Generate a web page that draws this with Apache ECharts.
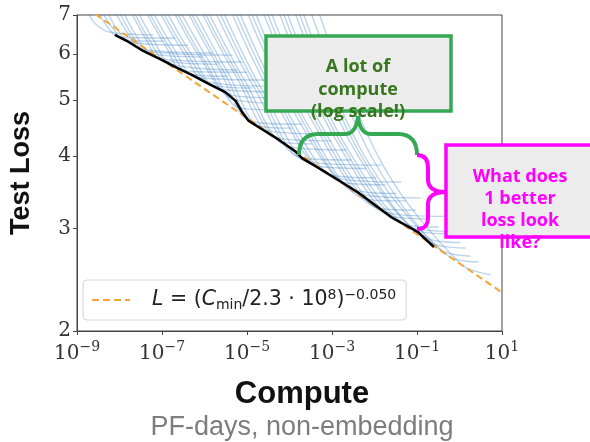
<!DOCTYPE html>
<html>
<head>
<meta charset="utf-8">
<script src="https://cdn.jsdelivr.net/npm/echarts@6/dist/echarts.min.js"></script>
<style>
html, body { margin: 0; padding: 0; background: #fff; }
#chart { width: 590px; height: 442px; }
</style>
</head>
<body>
<div id="chart"></div>
<script>
// tick positions
var xTicks = [1e-9, 1e-7, 1e-5, 1e-3, 1e-1, 10];
var yTicks = [2, 3, 4, 5, 6, 7];

// power law fit L = (C/2.3e8)^-0.050, end points
var fitLine = [[1e-9, 7.38], [10, 2.33]];

// compute-efficient frontier (black)
var frontier = [
  [7.8e-9, 6.47], [1.47e-8, 6.32], [3.6e-8, 6.07], [8.8e-8, 5.88], [2.15e-7, 5.69],
  [5.3e-7, 5.51], [1.29e-6, 5.32], [3.15e-6, 5.15], [5.4e-6, 4.98], [7.7e-6, 4.76],
  [1.1e-5, 4.60], [2.26e-5, 4.45], [4.6e-5, 4.31], [1.35e-4, 4.08], [1.97e-4, 3.97],
  [6.8e-4, 3.76], [4.2e-3, 3.46], [2.5e-2, 3.14], [0.106, 2.96], [0.25, 2.79]
];

// individual training runs (blue), [compute, loss]
var runs = [
  [[1.81e-9, 7.06], [2.77e-9, 6.75], [5.89e-9, 6.54], [6.25e-8, 6.47]],
  [[3.26e-9, 7.06], [5.28e-9, 6.67], [1.01e-8, 6.41], [2.04e-7, 6.39]],
  [[4.04e-9, 7.06], [6.92e-9, 6.65], [1.32e-8, 6.34], [1.07e-7, 6.31]],
  [[5.28e-9, 7.06], [9.04e-9, 6.60], [1.82e-8, 6.29], [4.10e-7, 6.21]],
  [[8.12e-9, 7.06], [1.55e-8, 6.52], [3.28e-8, 6.12], [1.57e-6, 6.02]],
  [[1.01e-8, 7.06], [1.92e-8, 6.49], [4.30e-8, 6.07], [4.59e-6, 5.97]],
  [[1.25e-8, 7.06], [2.51e-8, 6.44], [5.62e-8, 6.00], [9.17e-7, 5.93]],
  [[1.92e-8, 7.06], [4.07e-8, 6.39], [9.61e-8, 5.88], [7.86e-6, 5.81]],
  [[2.25e-8, 7.06], [5.05e-8, 6.34], [1.26e-7, 5.83], [2.05e-6, 5.76]],
  [[2.79e-8, 7.06], [6.59e-8, 6.31], [1.64e-7, 5.76], [6.01e-6, 5.63]],
  [[4.30e-8, 7.06], [1.19e-7, 6.21], [3.30e-7, 5.60], [1.03e-5, 5.58]],
  [[5.05e-8, 7.06], [1.48e-7, 6.16], [4.56e-7, 5.54], [3.51e-6, 5.49]],
  [[6.25e-8, 7.06], [1.93e-7, 6.12], [6.30e-7, 5.47], [3.01e-5, 5.41]],
  [[9.10e-8, 7.06], [3.13e-7, 6.04], [1.14e-6, 5.37], [3.94e-5, 5.28]],
  [[1.07e-7, 7.06], [3.88e-7, 6.02], [1.57e-6, 5.30], [1.35e-5, 5.24]],
  [[1.33e-7, 7.06], [5.08e-7, 5.97], [2.17e-6, 5.22], [8.81e-5, 5.16]],
  [[1.93e-7, 7.06], [8.24e-7, 5.88], [3.91e-6, 5.10], [5.15e-5, 5.04]],
  [[2.27e-7, 7.06], [1.02e-6, 5.83], [5.12e-6, 5.00], [1.97e-4, 4.92]],
  [[2.81e-7, 7.06], [1.34e-6, 5.79], [7.06e-6, 4.84], [1.15e-4, 4.80]],
  [[4.10e-7, 7.06], [2.17e-6, 5.67], [1.35e-5, 4.58], [1.97e-4, 4.54]],
  [[4.81e-7, 7.06], [2.69e-6, 5.63], [1.86e-5, 4.51], [1.15e-4, 4.47]],
  [[5.97e-7, 7.06], [3.51e-6, 5.58], [2.56e-5, 4.44], [5.78e-4, 4.37]],
  [[8.69e-7, 7.06], [5.69e-6, 5.47], [4.88e-5, 4.30], [9.88e-4, 4.25]],
  [[1.02e-6, 7.06], [7.06e-6, 5.43], [6.73e-5, 4.23], [3.37e-4, 4.20]],
  [[1.26e-6, 7.06], [9.23e-6, 5.37], [9.82e-5, 4.15], [2.21e-3, 4.10]],
  [[1.84e-6, 7.06], [1.50e-5, 5.24], [1.97e-4, 3.97], [2.89e-3, 3.94]],
  [[2.29e-6, 7.06], [1.96e-5, 5.18], [2.72e-4, 3.91], [1.45e-2, 3.86]],
  [[2.83e-6, 7.06], [2.56e-5, 5.12], [3.96e-4, 3.85], [6.47e-3, 3.81]],
  [[4.36e-6, 7.06], [4.39e-5, 5.00], [8.41e-4, 3.72], [1.11e-2, 3.67]],
  [[5.40e-6, 7.06], [5.73e-5, 4.94], [1.16e-3, 3.67], [4.25e-2, 3.61]],
  [[6.69e-6, 7.06], [7.50e-5, 4.88], [1.69e-3, 3.61], [1.90e-2, 3.57]],
  [[1.03e-5, 7.06], [1.28e-4, 4.76], [3.40e-3, 3.50], [3.24e-2, 3.45]],
  [[1.27e-5, 7.06], [1.68e-4, 4.71], [4.69e-3, 3.44], [0.124, 3.39]],
  [[1.58e-5, 7.06], [2.20e-4, 4.65], [6.83e-3, 3.37], [5.55e-2, 3.35]],
  [[2.43e-5, 7.06], [3.76e-4, 4.54], [1.37e-2, 3.25], [9.50e-2, 3.23]],
  [[3.01e-5, 7.06], [4.91e-4, 4.49], [1.90e-2, 3.20], [0.475, 3.15]],
  [[3.73e-5, 7.06], [6.43e-4, 4.44], [2.62e-2, 3.15], [0.191, 3.12]],
  [[5.73e-5, 7.06], [1.10e-3, 4.33], [4.99e-2, 3.05], [0.327, 3.02]],
  [[7.11e-5, 7.06], [1.44e-3, 4.28], [6.88e-2, 3.02], [0.815, 2.97]],
  [[8.81e-5, 7.06], [1.88e-3, 4.23], [9.50e-2, 2.98], [0.622, 2.94]],
  [[1.35e-4, 7.06], [3.22e-3, 4.13], [0.171, 2.89], [1.06, 2.84]],
  [[1.68e-4, 7.06], [4.22e-3, 4.08], [0.224, 2.83], [1.39, 2.78]],
  [[2.08e-4, 7.06], [5.51e-3, 4.03], [0.310, 2.78], [1.82, 2.69]],
  [[3.20e-4, 7.06], [9.42e-3, 3.94], [0.558, 2.69], [2.80, 2.63]],
  [[4.91e-4, 7.06], [1.61e-2, 3.85], [1.06, 2.61], [5.33, 2.50]]
];

var myChart = echarts.init(document.getElementById('chart'));

var series = runs.map(function (pts, i) {
  return {
    name: 'run' + i,
    type: 'line',
    data: pts,
    symbol: 'none',
    smooth: 0.35,
    silent: true,
    lineStyle: { color: 'rgba(50,120,190,0.32)', width: 1.4 },
    z: 2
  };
});
series.push({
  name: 'fit',
  type: 'line',
  data: fitLine,
  symbol: 'none',
  silent: true,
  color: '#f2a63a',
  lineStyle: { color: '#f2a63a', width: 2, type: [7, 4] },
  z: 3
});
series.push({
  name: 'frontier',
  type: 'line',
  data: frontier,
  symbol: 'none',
  silent: true,
  lineStyle: { color: '#000', width: 2.5 },
  z: 4
});

// curly braces, built from bezier pieces: [x1,y1,cpx1,cpy1,cpx2,cpy2,x2,y2]
function brace(pieces, color) {
  return pieces.map(function (p) {
    return {
      type: 'bezierCurve', z: 20,
      shape: { x1: p[0], y1: p[1], cpx1: p[2], cpy1: p[3], cpx2: p[4], cpy2: p[5], x2: p[6], y2: p[7] },
      style: { fill: null, stroke: color, lineWidth: 4 }
    };
  });
}
var greenBrace = brace([
  [299, 155, 299, 142, 305, 134, 318, 134],
  [318, 134, 327, 134, 336, 134, 345, 134],
  [345, 134, 352, 134, 357, 128, 358, 116],
  [358, 116, 359, 128, 364, 134, 371, 134],
  [371, 134, 380, 134, 389, 134, 398, 134],
  [398, 134, 411, 134, 417, 142, 417, 155]
], '#34a853');
var pinkBrace = brace([
  [417, 155, 425, 155, 428, 160, 428, 168],
  [428, 168, 428, 172, 428, 176, 428, 180],
  [428, 180, 428, 188, 435, 192, 446, 192],
  [446, 192, 435, 192, 428, 196, 428, 204],
  [428, 204, 428, 208, 428, 213, 428, 217],
  [428, 217, 428, 225, 425, 229, 417, 229]
], '#ff00ff');

var serif = 'DejaVu Serif';

var option = {
  animation: false,
  backgroundColor: '#fff',
  grid: {
    left: 73, right: 88, top: 15, bottom: 111,
    show: true, borderColor: '#444', borderWidth: 1, backgroundColor: 'transparent'
  },
  legend: {
    data: ['fit'],
    left: 83, top: 280,
    padding: [8, 10, 8, 8],
    itemWidth: 38, itemHeight: 14,
    itemStyle: { opacity: 0 },
    backgroundColor: '#fff',
    borderColor: '#d4d4d4', borderWidth: 1, borderRadius: 4,
    formatter: function () {
      return '{i|L} = ({i|C}{sub|min}/2.3 · 10{sup|8}){sup|−0.050}';
    },
    textStyle: {
      fontFamily: 'DejaVu Sans', fontSize: 20.5, color: '#222',
      padding: [0, 0, 0, 17], lineHeight: 24,
      rich: {
        i: { fontFamily: 'DejaVu Sans', fontStyle: 'italic', fontSize: 20.5, color: '#222', lineHeight: 24 },
        sub: { fontFamily: 'DejaVu Sans', fontSize: 14, color: '#222', lineHeight: 14, verticalAlign: 'bottom' },
        sup: { fontFamily: 'DejaVu Sans', fontSize: 14, color: '#222', lineHeight: 14, verticalAlign: 'top' }
      }
    }
  },
  xAxis: {
    type: 'log', logBase: 10, min: 1e-9, max: 10,
    axisLine: { show: true, lineStyle: { color: '#444', width: 1 } },
    axisTick: { show: true, customValues: xTicks, length: 4, lineStyle: { color: '#444' } },
    minorTick: { show: false },
    splitLine: { show: false },
    axisLabel: {
      customValues: xTicks,
      margin: 9,
      formatter: function (v) {
        var e = Math.round(Math.log10(v));
        return '{b|10}{s|' + (e < 0 ? '−' + (-e) : e) + '}';
      },
      rich: {
        b: { fontFamily: serif, fontSize: 20, color: '#333', lineHeight: 24, verticalAlign: 'bottom' },
        s: { fontFamily: serif, fontSize: 14, color: '#333', lineHeight: 14, verticalAlign: 'top' }
      }
    }
  },
  yAxis: {
    type: 'log', logBase: 10, min: 2, max: 7,
    name: 'Test Loss',
    nameLocation: 'middle',
    nameRotate: 90,
    nameGap: 42,
    nameTextStyle: { fontFamily: 'Liberation Sans', fontWeight: 'bold', fontSize: 27, color: '#111' },
    axisLine: { show: true, lineStyle: { color: '#444', width: 1 } },
    axisTick: { show: true, customValues: yTicks, length: 4, lineStyle: { color: '#444' } },
    minorTick: { show: false },
    splitLine: { show: false },
    axisLabel: {
      customValues: yTicks,
      margin: 6,
      fontFamily: serif, fontSize: 20, color: '#333',
      formatter: function (v) { return String(Math.round(v)); }
    }
  },
  graphic: [
    {
      type: 'text', z: 10,
      x: 302, y: 394,
      style: {
        text: 'Compute',
        font: 'bold 31px "Liberation Sans"', fill: '#111',
        textAlign: 'center', textVerticalAlign: 'middle'
      }
    },
    {
      type: 'text', z: 10,
      x: 302, y: 428,
      style: {
        text: 'PF-days, non-embedding',
        font: '27px "Liberation Sans"', fill: '#7d7d7d',
        textAlign: 'center', textVerticalAlign: 'middle'
      }
    },
    {
      type: 'rect', z: 20,
      shape: { x: 266, y: 36, width: 185, height: 75 },
      style: { fill: '#ececec', stroke: '#34a853', lineWidth: 3.5 }
    },
    {
      type: 'text', z: 21,
      x: 358, y: 56,
      style: {
        text: 'A lot of\ncompute\n(log scale!)',
        font: 'bold 18px "Open Sans"', fill: '#38761d',
        textAlign: 'center', textVerticalAlign: 'top', lineHeight: 22.5
      }
    },
    {
      type: 'rect', z: 20,
      shape: { x: 446, y: 145, width: 160, height: 92 },
      style: { fill: '#ececec', stroke: '#ff00ff', lineWidth: 3.5 }
    },
    {
      type: 'text', z: 21,
      x: 520, y: 166,
      style: {
        text: 'What does\n1 better\nloss look\nlike?',
        font: 'bold 18px "Open Sans"', fill: '#ff00ff',
        textAlign: 'center', textVerticalAlign: 'top', lineHeight: 22
      }
    }
  ].concat(greenBrace, pinkBrace),
  series: series
};

myChart.setOption(option);
window.addEventListener('resize', function () {
  myChart.resize();
});
</script>
</body>
</html>
